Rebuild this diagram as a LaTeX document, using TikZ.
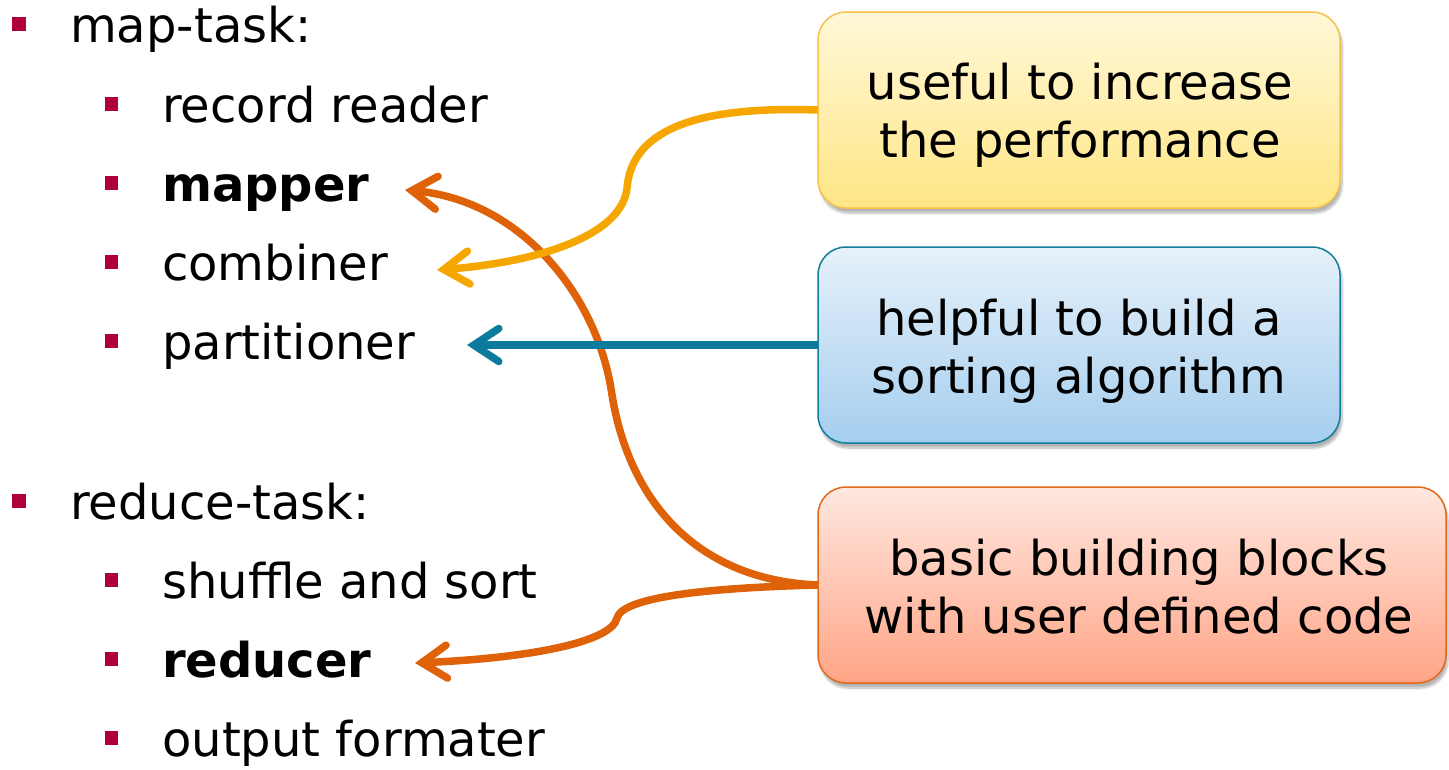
\documentclass[tikz,border=0pt]{standalone}
\usepackage{fontspec}
\setmainfont{DejaVu Sans}
\newfontfamily\boxfont{DejaVu Sans}
\usetikzlibrary{arrows.meta,shadows.blur}
\definecolor{bulletred}{HTML}{B0003A}
\definecolor{yelT}{HTML}{FFF8D8}
\definecolor{yelB}{HTML}{FFE685}
\definecolor{yeldraw}{HTML}{F6C14A}
\definecolor{bluT}{HTML}{E6F1FA}
\definecolor{bluB}{HTML}{A5CEEE}
\definecolor{bludraw}{HTML}{127E9C}
\definecolor{redT}{HTML}{FFE8E0}
\definecolor{redB}{HTML}{FFA486}
\definecolor{reddraw}{HTML}{E2681C}
\definecolor{arrY}{HTML}{F5A700}
\definecolor{arrB}{HTML}{0A7B9D}
\definecolor{arrR}{HTML}{DF6209}
\pgfdeclarelayer{bg}
\pgfsetlayers{bg,main}
\tikzset{
  bulA/.style={fill=bulletred, minimum size=14pt, inner sep=0pt, draw=none},
  bulB/.style={fill=bulletred, minimum size=13.5pt, inner sep=0pt, draw=none},
  item/.style={anchor=base west, inner sep=0pt, font=\fontsize{48}{58}\selectfont},
  callout/.style={rounded corners=28pt, minimum width=522pt, minimum height=196pt,
    line width=1.5pt, inner sep=0pt,
    blur shadow={shadow blur steps=8, shadow xshift=2pt, shadow yshift=-5pt, shadow opacity=30}},
  boxtext/.style={align=center, inner sep=0pt, font=\boxfont\fontsize{48}{58}\selectfont},
  link/.style={line width=7.5pt, line cap=round,
    -{Straight Barb[length=25pt,width=33pt,line cap=round]},
    preaction={draw=black, opacity=0.12, transform canvas={shift={(2pt,-3pt)}}}}
}
\begin{document}
\begin{tikzpicture}[x=1pt,y=-1pt]
\useasboundingbox (0,0) rectangle (1449,769);
% left list
\node[bulA] (bmap) at (19,24) {};
\node[item] (maptask) at (70,42) {map-task:};
\node[bulB] (brec) at (111.5,104) {};
\node[item] (rec) at (162,122) {record reader};
\node[bulB] (bmapper) at (111.5,183) {};
\node[item] (mapper) at (162,201) {\textbf{mapper}};
\node[bulB] (bcomb) at (111.5,262) {};
\node[item] (comb) at (162,280) {combiner};
\node[bulB] (bpart) at (111.5,341) {};
\node[item] (part) at (162,359) {partitioner};
\node[bulA] (bred) at (19,501) {};
\node[item] (redtask) at (70,519) {reduce-task:};
\node[bulB] (bshuf) at (111.5,580) {};
\node[item] (shuf) at (162,598) {shuffle and sort};
\node[bulB] (breducer) at (111.5,659) {};
\node[item] (reducer) at (162,677) {\textbf{reducer}};
\node[bulB] (bout) at (111.5,738) {};
\node[item] (outf) at (162,756) {output formater};
% callouts
\node[callout, top color=yelT, bottom color=yelB, draw=yeldraw] (yel) at (1079,110) {};
\node[boxtext] (yeltxt) at (1080,115) {useful to increase\\the performance};
\node[callout, top color=bluT, bottom color=bluB, draw=bludraw] (blu) at (1079,345) {};
\node[boxtext] (blutxt) at (1079,351) {helpful to build a\\sorting algorithm};
\node[callout, top color=redT, bottom color=redB, draw=reddraw, minimum width=628pt] (red) at (1132,585) {};
\node[boxtext] (redtxt) at (1139,587) {basic building blocks\\with user defined code};
% arrow tips
\coordinate (tipY) at (437,270);
\coordinate (tipB) at (467,345);
\coordinate (tipM) at (405,190);
\coordinate (tipR) at (415,663);
\begin{pgfonlayer}{bg}
\draw[link, arrR] (red.west) .. controls (700,580) and (630,505) .. (612,395) .. controls (598,295) and (520,200) .. (tipM);
\draw[link, arrR] (red.west) .. controls (700,588) and (622,598) .. (617,618) .. controls (612,642) and (530,658) .. (tipR);
\draw[link, arrY] (yel.west) .. controls (700,106) and (632,128) .. (627,188) .. controls (622,235) and (540,262) .. (tipY);
\draw[link, arrB] (blu.west) -- (tipB);
\end{pgfonlayer}
\end{tikzpicture}
\end{document}
